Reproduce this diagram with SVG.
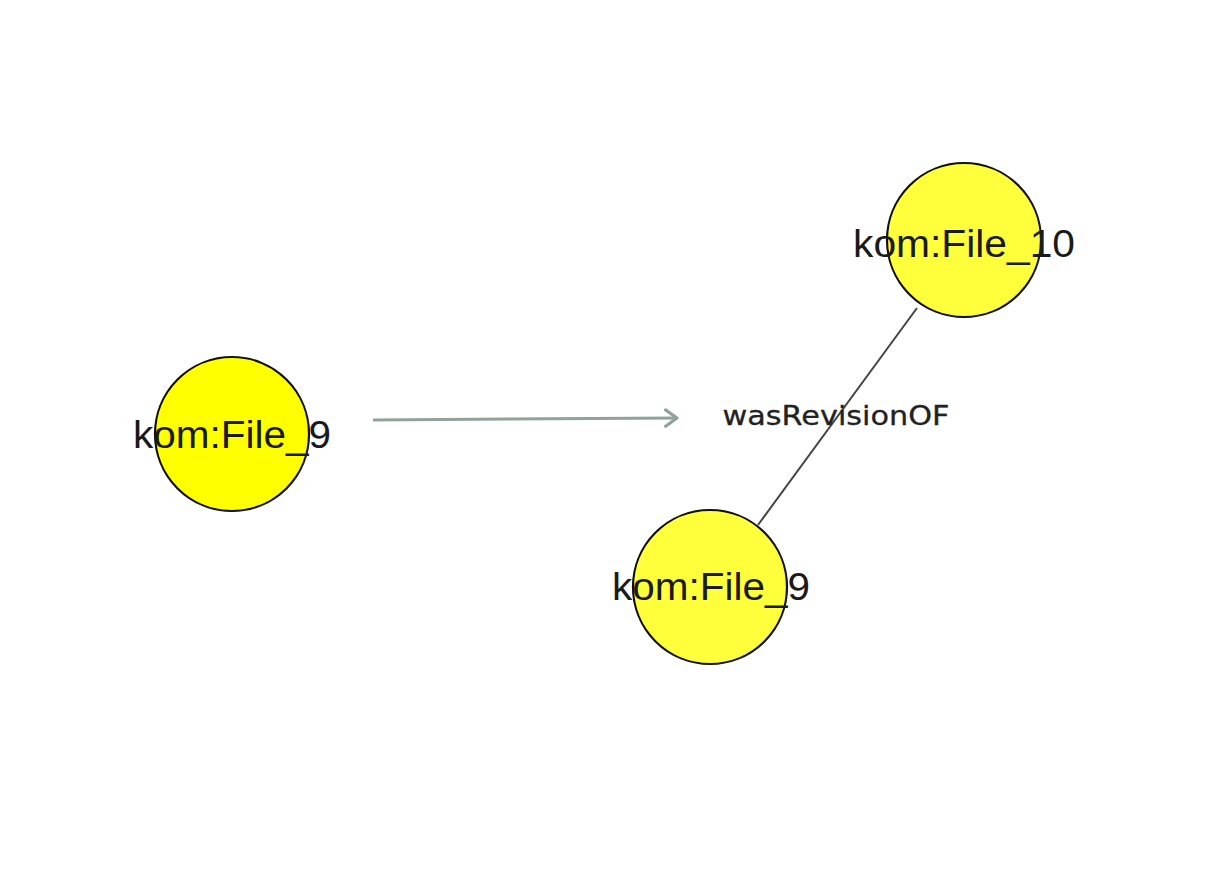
<svg xmlns="http://www.w3.org/2000/svg" width="1232" height="876" viewBox="0 0 1232 876">
<style>
.node{stroke:#111;stroke-width:2.2}
.lbl{font-family:"Liberation Sans",Arial,sans-serif;font-size:38px;fill:#1a1a1a;text-anchor:middle}
.elbl{font-family:"DejaVu Sans",Verdana,sans-serif;font-size:26px;fill:#222;text-anchor:middle;stroke:#222;stroke-width:0.3}
</style>
<defs>
<marker id="chev" viewBox="0 0 12 12" refX="10" refY="6" markerWidth="6.5" markerHeight="6.5" orient="auto" markerUnits="strokeWidth">
<path d="M3,1 L10,6 L3,11" fill="none" stroke="#8fa39a" stroke-width="2" stroke-linecap="round" stroke-linejoin="round"/>
</marker>
</defs>
<rect width="1232" height="876" fill="#fff"/>
<g id="connectors">
<line x1="917" y1="308" x2="758" y2="525" stroke="#444" stroke-width="2"/>
<line x1="373" y1="420" x2="677" y2="418" stroke="#8fa39a" stroke-width="3" marker-end="url(#chev)"/>
<text class="elbl" x="836" y="425" textLength="227" lengthAdjust="spacingAndGlyphs">wasRevisionOF</text>
</g>
<g id="file9a">
<circle class="node" cx="232" cy="434" r="77" fill="#ffff00"/>
<text class="lbl" x="232" y="448" textLength="198" lengthAdjust="spacingAndGlyphs">kom:File_9</text>
</g>
<g id="file10">
<circle class="node" cx="964" cy="240" r="77" fill="#ffff3c"/>
<text class="lbl" x="964" y="257" textLength="222" lengthAdjust="spacingAndGlyphs">kom:File_10</text>
</g>
<g id="file9b">
<circle class="node" cx="710" cy="587" r="77" fill="#ffff3c"/>
<text class="lbl" x="711" y="600" textLength="198" lengthAdjust="spacingAndGlyphs">kom:File_9</text>
</g>
</svg>
